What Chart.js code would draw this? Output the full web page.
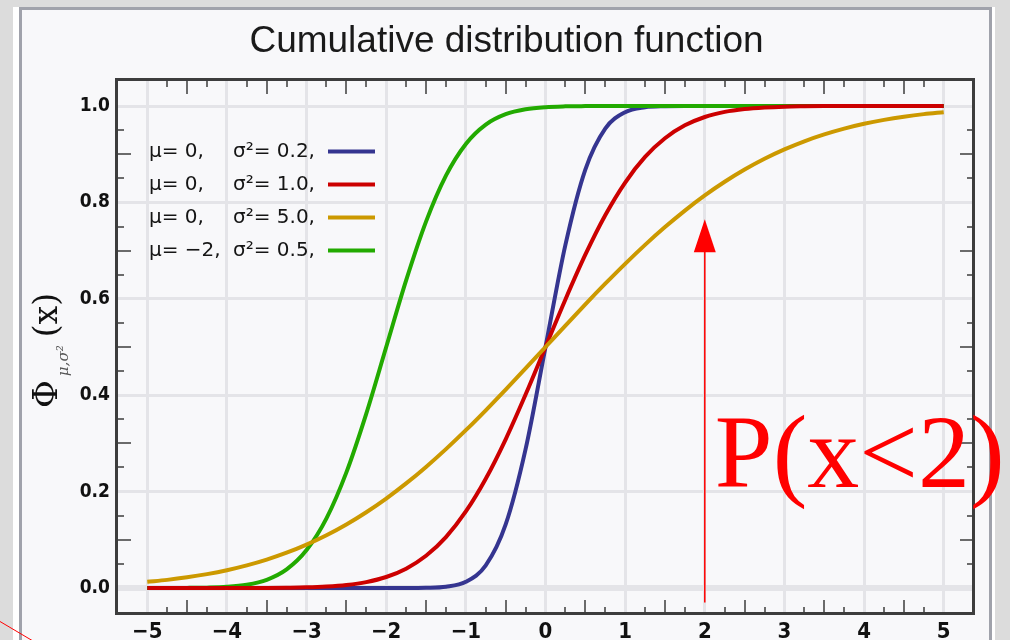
<!DOCTYPE html>
<html><head><meta charset="utf-8">
<script src="https://cdn.jsdelivr.net/npm/chart.js@4/dist/chart.umd.min.js"></script>
<style>
html,body{margin:0;padding:0;width:1010px;height:640px;overflow:hidden;background:#dcdcdc;}
#white{position:absolute;left:13px;top:7px;width:982px;height:700px;background:#ffffff;}
#panel{position:absolute;left:19px;top:7px;width:973px;height:700px;box-sizing:border-box;border:3px solid #a0a2ab;border-bottom:none;background:#f8f8fa;}
#wrap{position:absolute;left:0;top:0;width:1010px;height:640px;}
</style></head><body>
<div id="white"></div><div id="panel"></div>
<div id="wrap"><canvas id="c" width="1010" height="640"></canvas></div>
<script>
// ---- data ----
const xValues = [-5,-4.75,-4.5,-4.25,-4,-3.75,-3.5,-3.25,-3,-2.75,-2.5,-2.25,-2,-1.75,-1.5,-1.25,-1,-0.75,-0.5,-0.25,0,0.25,0.5,0.75,1,1.25,1.5,1.75,2,2.25,2.5,2.75,3,3.25,3.5,3.75,4,4.25,4.5,4.75,5];
const blueCdf  = [0,0,0,0,0,0,0,0,0,0,0,0,0,0,0.0004,0.0026,0.0127,0.0468,0.1318,0.2881,0.5,0.7119,0.8682,0.9532,0.9873,0.9974,0.9996,1,1,1,1,1,1,1,1,1,1,1,1,1,1];
const redCdf   = [0,0,0,0,0,0.0001,0.0002,0.0006,0.0013,0.003,0.0062,0.0122,0.0228,0.0401,0.0668,0.1056,0.1587,0.2266,0.3085,0.4013,0.5,0.5987,0.6915,0.7734,0.8413,0.8944,0.9332,0.9599,0.9772,0.9878,0.9938,0.997,0.9987,0.9994,0.9998,0.9999,1,1,1,1,1];
const goldCdf  = [0.0127,0.0168,0.0221,0.0287,0.0368,0.0468,0.0588,0.0731,0.0899,0.1094,0.1318,0.1572,0.1855,0.2169,0.2512,0.2881,0.3274,0.3687,0.4115,0.4555,0.5,0.5445,0.5885,0.6313,0.6726,0.7119,0.7488,0.7831,0.8145,0.8428,0.8682,0.8906,0.9101,0.9269,0.9412,0.9532,0.9632,0.9713,0.9779,0.9832,0.9873];
const greenCdf = [0,0.0001,0.0002,0.0007,0.0023,0.0067,0.0169,0.0385,0.0786,0.1444,0.2398,0.3618,0.5,0.6382,0.7602,0.8556,0.9214,0.9615,0.9831,0.9933,0.9977,0.9993,0.9998,1,1,1,1,1,1,1,1,1,1,1,1,1,1,1,1,1,1];

const muLabels    = ['μ= 0,', 'μ= 0,', 'μ= 0,', 'μ= −2,'];
const sigmaLabels = ['σ²= 0.2,', 'σ²= 1.0,', 'σ²= 5.0,', 'σ²= 0.5,'];

const xTickValues = [-5,-4,-3,-2,-1,0,1,2,3,4,5];
const xTickLabels = ['−5','−4','−3','−2','−1','0','1','2','3','4','5'];
const yTickValues = [0,0.2,0.4,0.6,0.8,1.0];
const yTickLabels = ['0.0','0.2','0.4','0.6','0.8','1.0'];

const titleText = 'Cumulative distribution function';
const annotationText = 'P(x<2)';
const arrowX = 2;
const arrowFrom = -0.03;
const arrowTo = 0.765;
const annotationY = 0.21;

// ---- styles ----
const colors = ['#353590', '#cc0000', '#cc9900', '#22aa00'];
const seriesList = [blueCdf, redCdf, goldCdf, greenCdf];
const drawOrder = [3, 1, 0, 2]; // gold on top, then red, green, blue

const datasets = seriesList.map((s, i) => ({
  label: muLabels[i] + ' ' + sigmaLabels[i],
  data: xValues.map((x, j) => ({x: x, y: s[j]})),
  borderColor: colors[i],
  borderWidth: 4,
  pointRadius: 0,
  fill: false,
  cubicInterpolationMode: 'monotone',
  order: drawOrder[i]
}));

const narrowFont = "'Liberation Sans Narrow','DejaVu Sans Condensed','Liberation Sans',sans-serif";

const decorPlugin = {
  id: 'decor',
  afterDraw(chart) {
    const ctx = chart.ctx, a = chart.chartArea, xs = chart.scales.x, ys = chart.scales.y;
    ctx.save();
    // minor ticks on the frame
    ctx.strokeStyle = '#6b6b6b';
    ctx.lineWidth = 2;
    for (let k = -19; k <= 19; k++) {
      if (k % 4 === 0) continue;
      const len = (k % 2 === 0) ? 14 : 7;
      const px = Math.round(xs.getPixelForValue(k / 4));
      ctx.beginPath();
      ctx.moveTo(px, a.bottom); ctx.lineTo(px, a.bottom - len);
      ctx.moveTo(px, a.top); ctx.lineTo(px, a.top + len);
      ctx.stroke();
    }
    for (let k = 1; k <= 19; k++) {
      if (k % 4 === 0) continue;
      const len = (k % 2 === 0) ? 14 : 7;
      const py = Math.round(ys.getPixelForValue(k * 0.05));
      ctx.beginPath();
      ctx.moveTo(a.left, py); ctx.lineTo(a.left + len, py);
      ctx.moveTo(a.right, py); ctx.lineTo(a.right - len, py);
      ctx.stroke();
    }
    // frame
    ctx.strokeStyle = '#3d3d3d';
    ctx.lineWidth = 3;
    ctx.strokeRect(a.left - 0.5, a.top - 0.5, a.right - a.left, a.bottom - a.top);

    // legend
    ctx.font = "20px 'DejaVu Sans'";
    ctx.textBaseline = 'middle';
    ctx.textAlign = 'left';
    for (let i = 0; i < muLabels.length; i++) {
      const yy = a.top + 71.5 + i * 33;
      ctx.fillStyle = '#151515';
      ctx.fillText(muLabels[i], a.left + 32, yy);
      ctx.fillText(sigmaLabels[i], a.left + 116, yy);
      ctx.strokeStyle = colors[i];
      ctx.lineWidth = 4;
      ctx.beginPath();
      ctx.moveTo(a.left + 211, yy); ctx.lineTo(a.left + 258, yy);
      ctx.stroke();
    }

    // y axis title  Φ_{μ,σ²}(x)
    ctx.save();
    ctx.translate(57, 408);
    ctx.rotate(-Math.PI / 2);
    ctx.fillStyle = '#111';
    ctx.textBaseline = 'alphabetic';
    ctx.font = "34px 'DejaVu Serif'";
    ctx.fillText('Φ', 0, 0);
    let w = ctx.measureText('Φ').width;
    ctx.font = "italic 15px 'DejaVu Serif'";
    ctx.fillStyle = '#555';
    ctx.fillText('μ,σ²', w + 4, 11);
    w += ctx.measureText('μ,σ²').width + 12;
    ctx.fillStyle = '#111';
    ctx.font = "33px 'DejaVu Serif'";
    ctx.fillText('(x)', w, 0);
    ctx.restore();

    // annotation arrow and text
    const px = xs.getPixelForValue(arrowX);
    const y0 = ys.getPixelForValue(arrowFrom);
    const y1 = ys.getPixelForValue(arrowTo);
    ctx.strokeStyle = '#ff0000';
    ctx.fillStyle = '#ff0000';
    ctx.lineWidth = 1.5;
    ctx.beginPath();
    ctx.moveTo(px, y0); ctx.lineTo(px, y1 + 30);
    ctx.stroke();
    ctx.beginPath();
    ctx.moveTo(px, y1); ctx.lineTo(px - 11, y1 + 33); ctx.lineTo(px + 11, y1 + 33);
    ctx.closePath();
    ctx.fill();
    ctx.font = "104px 'Liberation Serif'";
    ctx.textBaseline = 'alphabetic';
    ctx.textAlign = 'left';
    ctx.fillText(annotationText, px + 10, ys.getPixelForValue(annotationY));

    // stray red stroke at bottom-left corner
    ctx.lineWidth = 1;
    ctx.beginPath();
    ctx.moveTo(0, 621.5); ctx.lineTo(33, 641);
    ctx.stroke();
    ctx.restore();
  }
};

new Chart(document.getElementById('c'), {
  type: 'line',
  data: { datasets: datasets },
  options: {
    responsive: false,
    animation: false,
    devicePixelRatio: 1,
    events: [],
    layout: { padding: { left: 39, right: 36, top: 0, bottom: 0 } },
    plugins: {
      legend: { display: false },
      tooltip: { enabled: false },
      title: {
        display: true,
        text: titleText,
        color: '#1a1a1a',
        font: { family: "'Liberation Sans', Arial, sans-serif", size: 37, weight: 'normal', lineHeight: 1.2 },
        padding: { top: 20, bottom: 15.6 }
      }
    },
    scales: {
      x: {
        type: 'linear',
        min: -5.38,
        max: 5.38,
        afterBuildTicks: (s) => { s.ticks = xTickValues.map(v => ({ value: v })); },
        afterFit: (s) => { s.height = 26; },
        ticks: {
          callback: (v, i) => xTickLabels[i],
          color: '#111',
          padding: 5,
          maxRotation: 0,
          autoSkip: false,
          font: { family: narrowFont, size: 22, weight: 'bold' }
        },
        grid: { color: '#e4e4e8', lineWidth: 3, drawTicks: false },
        border: { display: false }
      },
      y: {
        type: 'linear',
        min: -0.054,
        max: 1.054,
        afterBuildTicks: (s) => { s.ticks = yTickValues.map(v => ({ value: v })); },
        afterFit: (s) => { s.width = 78; },
        ticks: {
          callback: (v, i) => yTickLabels[i],
          color: '#111',
          padding: 7,
          autoSkip: false,
          font: { family: narrowFont, size: 19, weight: 'bold' }
        },
        grid: {
          color: '#e4e4e8',
          lineWidth: (c) => (c.tick && c.tick.value === 0) ? 6 : 3,
          drawTicks: false
        },
        border: { display: false }
      }
    }
  },
  plugins: [decorPlugin]
});
</script>
</body></html>
